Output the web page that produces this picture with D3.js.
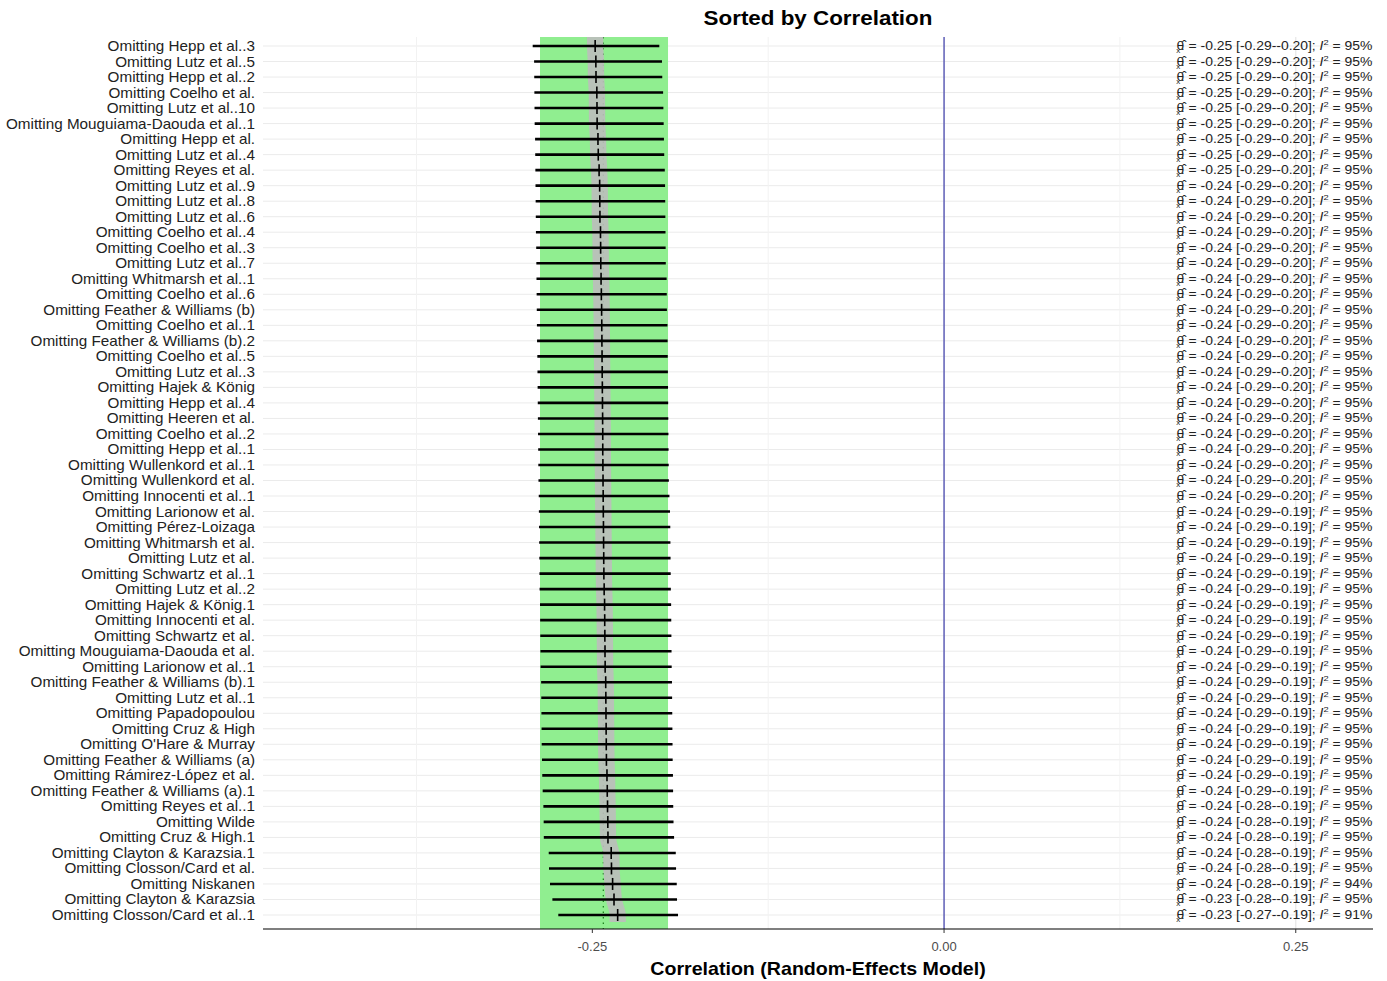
<!DOCTYPE html>
<html>
<head>
<meta charset="utf-8">
<script src="https://cdn.jsdelivr.net/npm/d3@7"></script>
<style>
  body { margin: 0; background: #fff; }
  svg { font-family: "Liberation Sans", Arial, sans-serif; }
</style>
</head>
<body>
<div id="chart"></div>
<script>
const studies = [
  'Omitting Hepp et al..3', 'Omitting Lutz et al..5', 'Omitting Hepp et al..2', 'Omitting Coelho et al.',
  'Omitting Lutz et al..10', 'Omitting Mouguiama-Daouda et al..1', 'Omitting Hepp et al.', 'Omitting Lutz et al..4',
  'Omitting Reyes et al.', 'Omitting Lutz et al..9', 'Omitting Lutz et al..8', 'Omitting Lutz et al..6',
  'Omitting Coelho et al..4', 'Omitting Coelho et al..3', 'Omitting Lutz et al..7', 'Omitting Whitmarsh et al..1',
  'Omitting Coelho et al..6', 'Omitting Feather & Williams (b)', 'Omitting Coelho et al..1', 'Omitting Feather & Williams (b).2',
  'Omitting Coelho et al..5', 'Omitting Lutz et al..3', 'Omitting Hajek & König', 'Omitting Hepp et al..4',
  'Omitting Heeren et al.', 'Omitting Coelho et al..2', 'Omitting Hepp et al..1', 'Omitting Wullenkord et al..1',
  'Omitting Wullenkord et al.', 'Omitting Innocenti et al..1', 'Omitting Larionow et al.', 'Omitting Pérez-Loizaga',
  'Omitting Whitmarsh et al.', 'Omitting Lutz et al.', 'Omitting Schwartz et al..1', 'Omitting Lutz et al..2',
  'Omitting Hajek & König.1', 'Omitting Innocenti et al.', 'Omitting Schwartz et al.', 'Omitting Mouguiama-Daouda et al.',
  'Omitting Larionow et al..1', 'Omitting Feather & Williams (b).1', 'Omitting Lutz et al..1', 'Omitting Papadopoulou',
  'Omitting Cruz & High', "Omitting O'Hare & Murray", 'Omitting Feather & Williams (a)', 'Omitting Rámirez-López et al.',
  'Omitting Feather & Williams (a).1', 'Omitting Reyes et al..1', 'Omitting Wilde', 'Omitting Cruz & High.1',
  'Omitting Clayton & Karazsia.1', 'Omitting Closson/Card et al.', 'Omitting Niskanen', 'Omitting Clayton & Karazsia',
  'Omitting Closson/Card et al..1'
];

const estimate = [
  -0.2480, -0.2475, -0.2474, -0.2468, -0.2467, -0.2466, -0.2460, -0.2458, -0.2452, -0.2448,
  -0.2447, -0.2446, -0.2442, -0.2441, -0.2440, -0.2438, -0.2436, -0.2434, -0.2433, -0.2432,
  -0.2431, -0.2430, -0.2429, -0.2428, -0.2427, -0.2426, -0.2426, -0.2425, -0.2424, -0.2423,
  -0.2422, -0.2421, -0.2420, -0.2419, -0.2418, -0.2416, -0.2413, -0.2412, -0.2411, -0.2410,
  -0.2409, -0.2405, -0.2404, -0.2403, -0.2402, -0.2401, -0.2400, -0.2396, -0.2394, -0.2392,
  -0.2390, -0.2389, -0.2366, -0.2364, -0.2356, -0.2346, -0.2320
];

const lower = [
  -0.2924, -0.2914, -0.2913, -0.2912, -0.2911, -0.2910, -0.2907, -0.2906, -0.2905, -0.2904,
  -0.2903, -0.2902, -0.2901, -0.2899, -0.2898, -0.2897, -0.2896, -0.2895, -0.2894, -0.2893,
  -0.2891, -0.2890, -0.2889, -0.2888, -0.2887, -0.2886, -0.2885, -0.2884, -0.2883, -0.2881,
  -0.2880, -0.2879, -0.2878, -0.2877, -0.2876, -0.2875, -0.2872, -0.2871, -0.2870, -0.2869,
  -0.2868, -0.2864, -0.2863, -0.2862, -0.2861, -0.2860, -0.2858, -0.2856, -0.2853, -0.2848,
  -0.2846, -0.2845, -0.2810, -0.2808, -0.2801, -0.2784, -0.2742
];

const upper = [
  -0.2024, -0.2005, -0.2003, -0.1997, -0.1995, -0.1993, -0.1991, -0.1989, -0.1985, -0.1983,
  -0.1982, -0.1981, -0.1980, -0.1979, -0.1978, -0.1972, -0.1971, -0.1970, -0.1966, -0.1965,
  -0.1964, -0.1963, -0.1962, -0.1961, -0.1960, -0.1959, -0.1958, -0.1957, -0.1956, -0.1952,
  -0.1948, -0.1946, -0.1945, -0.1944, -0.1943, -0.1942, -0.1940, -0.1939, -0.1938, -0.1937,
  -0.1936, -0.1934, -0.1933, -0.1932, -0.1931, -0.1930, -0.1929, -0.1927, -0.1926, -0.1925,
  -0.1923, -0.1919, -0.1907, -0.1905, -0.1900, -0.1898, -0.1891
];

const i2 = [
  95, 95, 95, 95, 95, 95, 95, 95, 95, 95, 95, 95, 95, 95, 95, 95, 95, 95, 95, 95,
  95, 95, 95, 95, 95, 95, 95, 95, 95, 95, 95, 95, 95, 95, 95, 95, 95, 95, 95, 95,
  95, 95, 95, 95, 95, 95, 95, 95, 95, 95, 95, 95, 95, 95, 94, 95, 91
];

const pooled = { est: -0.2422, lo: -0.2872, hi: -0.1962 };
const xTicks = [-0.25, 0, 0.25];
const xMinor = [-0.375, -0.125, 0.125];

const width = 1387, height = 981;
const panel = { left: 263, right: 1373, top: 37, bottom: 929 };

const svg = d3.select('#chart').append('svg')
  .attr('width', width)
  .attr('height', height);

const x = d3.scaleLinear()
  .domain([-0.4841, 0.3049])
  .range([panel.left, panel.right]);

const y = d3.scalePoint()
  .domain(studies)
  .range([46, 915])
  .padding(0);

const rows = studies.map((s, i) => ({ s, est: estimate[i], lo: lower[i], hi: upper[i], i2: i2[i] }));

// grid
svg.append('g').selectAll('line')
  .data(studies).join('line')
  .attr('x1', panel.left).attr('x2', panel.right)
  .attr('y1', d => y(d)).attr('y2', d => y(d))
  .attr('stroke', '#ebebeb').attr('stroke-width', 1);

svg.append('g').selectAll('line')
  .data(xMinor).join('line')
  .attr('x1', d => x(d)).attr('x2', d => x(d))
  .attr('y1', panel.top).attr('y2', panel.bottom)
  .attr('stroke', '#f2f2f2').attr('stroke-width', 1);

svg.append('g').selectAll('line')
  .data(xTicks).join('line')
  .attr('x1', d => x(d)).attr('x2', d => x(d))
  .attr('y1', panel.top).attr('y2', panel.bottom)
  .attr('stroke', '#e6e6e6').attr('stroke-width', 1.2);

// pooled CI band
svg.append('rect')
  .attr('x', x(pooled.lo)).attr('width', x(pooled.hi) - x(pooled.lo))
  .attr('y', panel.top).attr('height', panel.bottom - panel.top)
  .attr('fill', '#90ee90');

svg.append('line')
  .attr('x1', x(pooled.est)).attr('x2', x(pooled.est))
  .attr('y1', panel.top).attr('y2', panel.bottom)
  .attr('stroke', '#1a7a1a').attr('stroke-width', 1.2)
  .attr('stroke-dasharray', '1.5,4');

// grey ribbon around the leave-one-out estimates
const ribbonPts = [{ y: panel.top, est: estimate[0] }]
  .concat(rows.map(d => ({ y: y(d.s), est: d.est })))
  .concat([{ y: 922, est: estimate[estimate.length - 1] }]);

svg.append('path')
  .datum(ribbonPts)
  .attr('fill', '#bdbdbd')
  .attr('fill-opacity', 0.9)
  .attr('d', d3.area()
    .y(d => d.y)
    .x0(d => x(d.est - 0.0058))
    .x1(d => x(d.est + 0.0058))
    .curve(d3.curveMonotoneY));

// zero line
svg.append('line')
  .attr('x1', x(0)).attr('x2', x(0))
  .attr('y1', panel.top).attr('y2', panel.bottom)
  .attr('stroke', '#1c1ca0').attr('stroke-width', 1);

// CIs
svg.append('g').selectAll('line')
  .data(rows).join('line')
  .attr('x1', d => x(d.lo)).attr('x2', d => x(d.hi))
  .attr('y1', d => y(d.s)).attr('y2', d => y(d.s))
  .attr('stroke', '#000').attr('stroke-width', 2.6);

svg.append('g').selectAll('line')
  .data(rows).join('line')
  .attr('x1', d => x(d.est)).attr('x2', d => x(d.est))
  .attr('y1', d => y(d.s) - 6).attr('y2', d => y(d.s) + 6)
  .attr('stroke', '#000').attr('stroke-width', 1.6);

// y labels (text in the reference is slightly wide, so stretch horizontally)
svg.append('g')
  .attr('transform', 'translate(255,0) scale(1.09,1)')
  .selectAll('text')
  .data(studies).join('text')
  .attr('x', 0).attr('y', d => y(d) + 5)
  .attr('text-anchor', 'end')
  .attr('font-size', 14)
  .attr('fill', '#222')
  .text(d => d);

// annotations
const f2 = v => v.toFixed(2);
const ann = svg.append('g')
  .attr('transform', `translate(${x(0.165)},0) scale(1.16,1)`)
  .selectAll('text')
  .data(rows).join('text')
  .attr('x', 0).attr('y', d => y(d.s) + 4)
  .attr('font-size', 12)
  .attr('fill', '#222');
ann.append('tspan').text('θ\u0302');
ann.append('tspan').attr('font-size', 7).attr('dx', -7).attr('dy', 3).text('x');
ann.append('tspan').attr('dx', 0.5).attr('dy', -3).text('. = ');
ann.append('tspan').text(d => `${f2(d.est)} [${f2(d.lo)}-${f2(d.hi)}]; `);
ann.append('tspan').attr('font-style', 'italic').text('I');
ann.append('tspan').attr('font-size', 8).attr('dy', -5).text('2');
ann.append('tspan').attr('dy', 5).text(d => ` = ${d.i2}%`);

// x axis
svg.append('line')
  .attr('x1', panel.left).attr('x2', panel.right)
  .attr('y1', panel.bottom).attr('y2', panel.bottom)
  .attr('stroke', '#000').attr('stroke-width', 1.2);

svg.append('g').selectAll('line')
  .data(xTicks).join('line')
  .attr('x1', d => x(d)).attr('x2', d => x(d))
  .attr('y1', panel.bottom).attr('y2', panel.bottom + 4)
  .attr('stroke', '#333');

svg.append('g').selectAll('text')
  .data(xTicks).join('text')
  .attr('x', d => x(d)).attr('y', 951)
  .attr('text-anchor', 'middle')
  .attr('font-size', 13)
  .attr('fill', '#4d4d4d')
  .text(d => d3.format('.2f')(d).replace('−', '-'));

const cx = (panel.left + panel.right) / 2;

svg.append('text')
  .attr('transform', `translate(${cx},975) scale(1.09,1)`)
  .attr('text-anchor', 'middle')
  .attr('font-size', 18).attr('font-weight', 'bold')
  .text('Correlation (Random-Effects Model)');

svg.append('text')
  .attr('transform', `translate(${cx},25) scale(1.12,1)`)
  .attr('text-anchor', 'middle')
  .attr('font-size', 20).attr('font-weight', 'bold')
  .text('Sorted by Correlation');
</script>
</body>
</html>
